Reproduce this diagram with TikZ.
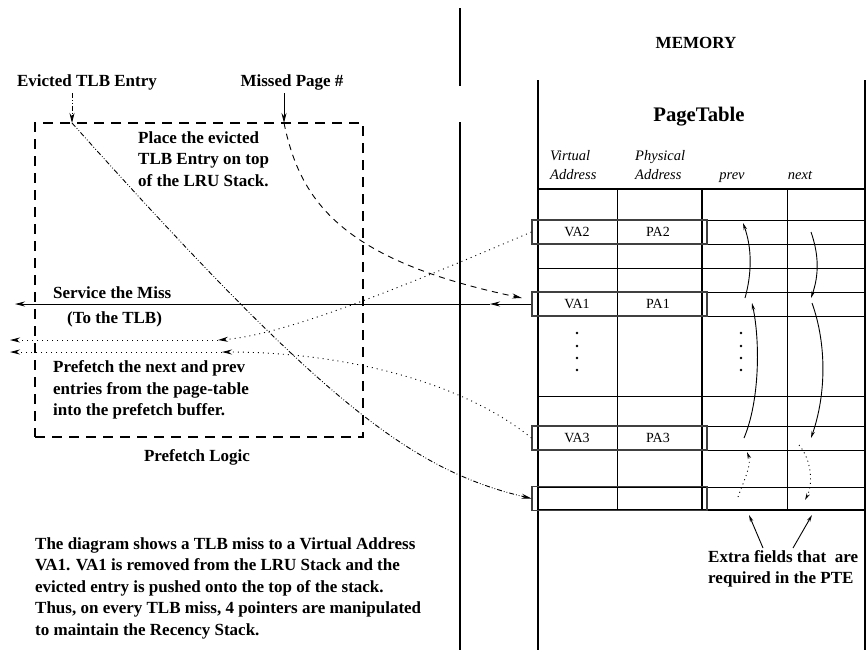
\documentclass[tikz,border=0pt]{standalone}
\usepackage{fontspec}
\setmainfont{Liberation Serif}
\usetikzlibrary{arrows.meta, positioning}

\begin{document}
\begin{tikzpicture}[
  x=1pt, y=-1pt,
  every node/.style={inner sep=0pt},
  lbl/.style={font=\fontsize{17}{21.5}\selectfont\bfseries},
  txt/.style={font=\fontsize{17}{21.5}\selectfont\bfseries, align=left, anchor=west},
  head/.style={font=\fontsize{14.5}{19}\selectfont\itshape, align=left},
  cell/.style={font=\fontsize{14}{17}\selectfont},
  rowbox/.style={rectangle, draw=black!75, line width=1.1pt,
    minimum width=175pt, minimum height=24pt},
  logicbox/.style={rectangle, draw, line width=2.4pt,
    dash pattern=on 10pt off 7pt, minimum width=328pt, minimum height=314pt},
  thinline/.style={line width=0.9pt},
  wall/.style={line width=2pt},
  arr/.style={-{Stealth[length=10pt,width=5pt]}, line width=0.9pt},
  dasharr/.style={arr, dash pattern=on 6pt off 5pt},
  ddotarr/.style={arr, dash pattern=on 5pt off 2pt on 0.8pt off 2pt on 0.8pt off 2pt},
  dotarr/.style={arr, dash pattern=on 1pt off 4pt},
  ptr/.style={-{Stealth[length=7pt,width=3.5pt]}, line width=0.9pt},
  dotptr/.style={ptr, dash pattern=on 1pt off 3.5pt}
]
\useasboundingbox (0,0) rectangle (866,653);

%% ── DIVIDER AND MEMORY ───────────────────────────────────
\draw[wall] (460,8) -- (460,86);
\draw[wall] (460,122) -- (460,650);
\draw[wall] (538,80) -- (538,650);
\draw[wall] (865,80) -- (865,650);

\node[lbl] (memory) at (696,43) {MEMORY};
\node[font=\fontsize{20.7}{25}\selectfont\bfseries] (ptitle) at (699,117) {PageTable};

%% Column headers
\node[head, anchor=west] (hva)   at (550,165) {Virtual\\Address};
\node[head, anchor=west] (hpa)   at (635,165) {Physical\\Address};
\node[head, anchor=base] (hprev) at (732,179) {prev};
\node[head, anchor=base] (hnext) at (800,179) {next};

%% ── PAGE TABLE ───────────────────────────────────────────
\foreach \y in {220,244,268,292,316,396,426,450,487}
  \draw[thinline] (538,\y) -- (865,\y);
\draw[wall] (538,189) -- (865,189);
\draw[wall] (538,510) -- (865,510);
\draw[thinline] (617,189) -- (617,510);
\draw[thinline] (787,189) -- (787,510);
\draw[wall] (702,189) -- (702,510);

%% Entries touched by the miss
\node[rowbox] (va2box)  at (619.5,232)   {};
\node[rowbox] (va1box)  at (619.5,304)   {};
\node[rowbox] (va3box)  at (619.5,438)   {};
\node[rowbox] (lastbox) at (619.5,498.5) {};

\node[cell] (va2) at (577,232) {VA2};
\node[cell] (pa2) at (658,232) {PA2};
\node[cell] (va1) at (577,304) {VA1};
\node[cell] (pa1) at (658,304) {PA1};
\node[cell] (va3) at (577,438) {VA3};
\node[cell] (pa3) at (658,438) {PA3};

%% Vertical dots
\foreach \y in {333,346,358,370} {
  \fill (577,\y) circle (1.3);
  \fill (741,\y) circle (1.3);
}

%% prev / next pointers
\coordinate (pa) at (745,298); \coordinate (pb) at (743,223);
\coordinate (pc) at (744,438); \coordinate (pd) at (752,303);
\coordinate (pe) at (738,497); \coordinate (pf) at (747,452);
\coordinate (na) at (811,232); \coordinate (nb) at (811,298);
\coordinate (nc) at (812,303); \coordinate (nd) at (811,438);
\coordinate (ne) at (799,445); \coordinate (nf) at (805,500);
\draw[ptr]    (pa) .. controls (752,273) and (752,248) .. (pb);
\draw[ptr]    (pc) .. controls (760,400) and (760,340) .. (pd);
\draw[dotptr] (pe) .. controls (744,480) and (752,465) .. (pf);
\draw[ptr]    (na) .. controls (819,255) and (819,275) .. (nb);
\draw[ptr]    (nc) .. controls (827,345) and (826,395) .. (nd);
\draw[dotptr] (ne) .. controls (812,460) and (813,485) .. (nf);

%% Extra fields note
\node[txt] (extra) at (708,569) {Extra fields that\ \ are\\required in the PTE};
\coordinate (xa) at (763,548); \coordinate (xat) at (749,515);
\coordinate (xb) at (793,548); \coordinate (xbt) at (812,515);
\draw[ptr] (xa) -- (xat);
\draw[ptr] (xb) -- (xbt);

%% ── PREFETCH LOGIC ───────────────────────────────────────
\node[logicbox] (logic) at (199,280) {};
\node[lbl] (logiclbl) at (197,457) {Prefetch Logic};

\node[lbl] (evict)  at (87,82)  {Evicted TLB Entry};
\node[lbl] (missed) at (292,82) {Missed Page \#};
\coordinate (etop) at (72,93);  \coordinate (ein) at (72,123);
\coordinate (mtop) at (284,93); \coordinate (min) at (284,123);

\node[txt] (place) at (138,159) {Place the evicted\\TLB Entry on top\\of the LRU Stack.};
\node[lbl, anchor=west] (service) at (53,293) {Service the Miss};
\node[lbl, anchor=west] (totlb)   at (67,319) {(To the TLB)};
\node[txt] (prefetch) at (53,390) {Prefetch the next and prev\\entries from the page-table\\into the prefetch buffer.};

%% Evicted entry goes on top of the stack
\draw[ddotarr] (etop) -- (ein);
\draw[ddotarr] (ein) .. controls (320,400) and (410,470) .. (lastbox.west);

%% Missed page looked up in the table
\coordinate (mend) at (522,298);
\draw[arr] (mtop) -- (min);
\draw[dasharr] (min) .. controls (300,200) and (340,260) .. (mend);

%% Service the miss
\coordinate (svcmid) at (490,304);
\coordinate (svcend) at (15,304);
\draw[arr] (va1box.west) -- (svcmid);
\draw[arr] (svcmid) -- (svcend);

%% Prefetch prev and next entries
\coordinate (pfa) at (218,340); \coordinate (pfaend) at (10,340);
\coordinate (pfb) at (222,352); \coordinate (pfbend) at (10,352);
\draw[dotarr] (va2box.west) .. controls (430,275) and (290,335) .. (pfa);
\draw[dotarr] (pfa) -- (pfaend);
\draw[dotarr] (va3box.west) .. controls (460,380) and (340,352) .. (pfb);
\draw[dotarr] (pfb) -- (pfbend);

%% ── DESCRIPTION ──────────────────────────────────────────
\node[txt] (desc) at (35,588) {The diagram shows a TLB miss to a Virtual Address\\
  VA1. VA1 is removed from the LRU Stack and the\\
  evicted entry is pushed onto the top of the stack.\\
  Thus, on every TLB miss, 4 pointers are manipulated\\
  to maintain the Recency Stack.};

\end{tikzpicture}
\end{document}
